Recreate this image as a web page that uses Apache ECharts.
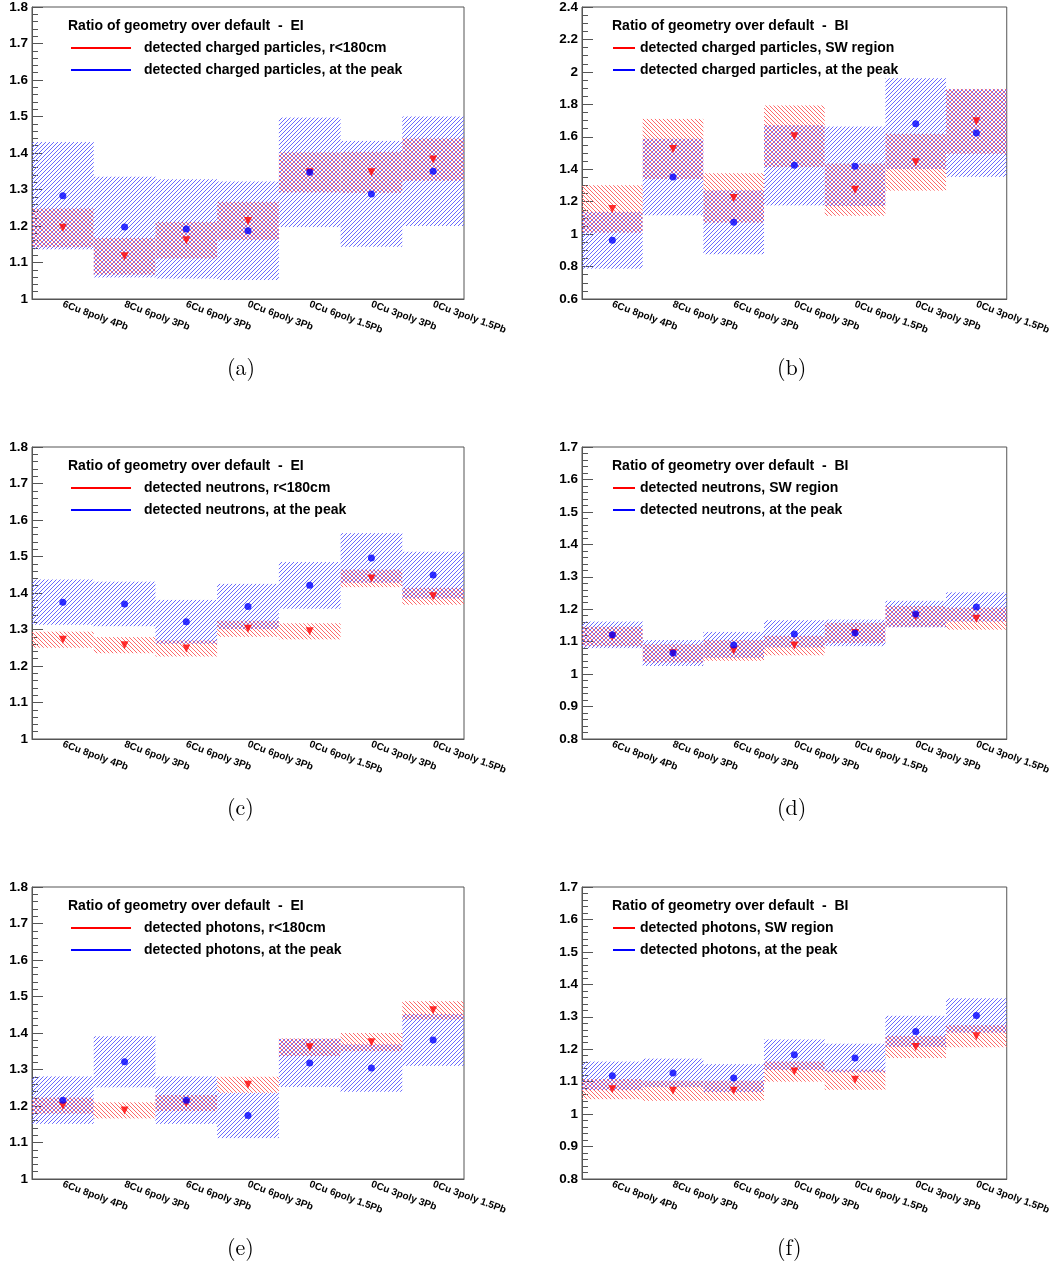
<!DOCTYPE html>
<html>
<head>
<meta charset="utf-8">
<title>Ratio of geometry over default</title>
<script src="https://cdn.jsdelivr.net/npm/echarts@6/dist/echarts.min.js"></script>
<style>
  html, body { margin: 0; padding: 0; background: #fff; }
  #chart { width: 1053px; height: 1266px; }
</style>
</head>
<body>
<div id="chart"></div>
<script>
// Geometry configurations along the x axis
const categories = ['6Cu 8poly 4Pb', '8Cu 6poly 3Pb', '6Cu 6poly 3Pb', '0Cu 6poly 3Pb',
  '0Cu 6poly 1.5Pb', '0Cu 3poly 3Pb', '0Cu 3poly 1.5Pb'];

// (a) charged particles, EI
const chargedEI_r180 = [1.195, 1.117, 1.161, 1.214, 1.347, 1.347, 1.382];
const chargedEI_r180Err = [0.053, 0.050, 0.050, 0.052, 0.055, 0.056, 0.058];
const chargedEI_peak = [1.283, 1.197, 1.192, 1.187, 1.347, 1.288, 1.350];
const chargedEI_peakErr = [0.147, 0.138, 0.136, 0.135, 0.150, 0.145, 0.150];

// (b) charged particles, BI
const chargedBI_sw = [1.155, 1.525, 1.223, 1.603, 1.274, 1.443, 1.695];
const chargedBI_swErr = [0.146, 0.185, 0.152, 0.190, 0.161, 0.175, 0.200];
const chargedBI_peak = [0.962, 1.352, 1.073, 1.424, 1.418, 1.681, 1.623];
const chargedBI_peakErr = [0.175, 0.236, 0.197, 0.247, 0.245, 0.280, 0.270];

// (c) neutrons, EI
const neutronsEI_r180 = [1.272, 1.257, 1.248, 1.302, 1.295, 1.440, 1.391];
const neutronsEI_r180Err = [0.022, 0.022, 0.022, 0.022, 0.022, 0.024, 0.023];
const neutronsEI_peak = [1.375, 1.370, 1.321, 1.363, 1.421, 1.496, 1.449];
const neutronsEI_peakErr = [0.062, 0.061, 0.060, 0.062, 0.064, 0.068, 0.064];

// (d) neutrons, BI
const neutronsBI_sw = [1.116, 1.064, 1.073, 1.088, 1.127, 1.178, 1.171];
const neutronsBI_swErr = [0.030, 0.028, 0.032, 0.030, 0.031, 0.032, 0.034];
const neutronsBI_peak = [1.121, 1.065, 1.090, 1.124, 1.127, 1.185, 1.207];
const neutronsBI_peakErr = [0.041, 0.040, 0.040, 0.042, 0.041, 0.041, 0.045];

// (e) photons, EI
const photonsEI_r180 = [1.201, 1.188, 1.208, 1.258, 1.361, 1.375, 1.462];
const photonsEI_r180Err = [0.022, 0.022, 0.022, 0.022, 0.024, 0.025, 0.025];
const photonsEI_peak = [1.216, 1.321, 1.216, 1.174, 1.318, 1.304, 1.381];
const photonsEI_peakErr = [0.065, 0.070, 0.065, 0.062, 0.066, 0.065, 0.071];

// (f) photons, BI
const photonsBI_sw = [1.077, 1.072, 1.072, 1.131, 1.106, 1.207, 1.240];
const photonsBI_swErr = [0.031, 0.031, 0.031, 0.031, 0.031, 0.034, 0.034];
const photonsBI_peak = [1.118, 1.127, 1.111, 1.183, 1.173, 1.255, 1.304];
const photonsBI_peakErr = [0.044, 0.044, 0.043, 0.047, 0.044, 0.048, 0.053];

const SANS = '"Liberation Sans", Arial, Helvetica, sans-serif';
const SERIF = '"Latin Modern Roman", "DejaVu Serif", "Liberation Serif", serif';
const HATCH_STEP = 4;
const BLUE_HATCH = 'rgb(105,105,255)';
const RED_HATCH = 'rgb(255,105,105)';

// Diagonal hatch lines clipped to a rectangle, as one path string.
// rising = true draws "/" lines, false draws "\" lines.
function hatchPath(x0, y0, x1, y1, rising) {
  let d = '';
  if (rising) {
    // lines x + y = c
    const cStart = Math.ceil((x0 + y0) / HATCH_STEP) * HATCH_STEP;
    for (let c = cStart; c <= x1 + y1; c += HATCH_STEP) {
      const xa = Math.max(x0, c - y1), xb = Math.min(x1, c - y0);
      if (xb > xa) d += 'M' + xa.toFixed(2) + ' ' + (c - xa).toFixed(2) + 'L' + xb.toFixed(2) + ' ' + (c - xb).toFixed(2);
    }
  } else {
    // lines x - y = c
    const cStart = Math.ceil((x0 - y1) / HATCH_STEP) * HATCH_STEP;
    for (let c = cStart; c <= x1 - y0; c += HATCH_STEP) {
      const xa = Math.max(x0, y0 + c), xb = Math.min(x1, y1 + c);
      if (xb > xa) d += 'M' + xa.toFixed(2) + ' ' + (xa - c).toFixed(2) + 'L' + xb.toFixed(2) + ' ' + (xb - c).toFixed(2);
    }
  }
  return d || 'M0 0';
}

const panels = [
  { label: '(a)', det: 'EI', left: 32, top: 7, yMin: 1, yMax: 1.8, step: 0.1, minor: 5,
    red: chargedEI_r180, redErr: chargedEI_r180Err, blue: chargedEI_peak, blueErr: chargedEI_peakErr,
    redName: 'detected charged particles, r<180cm', blueName: 'detected charged particles, at the peak' },
  { label: '(b)', det: 'BI', left: 582, top: 7, yMin: 0.6, yMax: 2.4, step: 0.2, minor: 4,
    red: chargedBI_sw, redErr: chargedBI_swErr, blue: chargedBI_peak, blueErr: chargedBI_peakErr,
    redName: 'detected charged particles, SW region', blueName: 'detected charged particles, at the peak ' },
  { label: '(c)', det: 'EI', left: 32, top: 447, yMin: 1, yMax: 1.8, step: 0.1, minor: 5,
    red: neutronsEI_r180, redErr: neutronsEI_r180Err, blue: neutronsEI_peak, blueErr: neutronsEI_peakErr,
    redName: 'detected neutrons, r<180cm', blueName: 'detected neutrons, at the peak' },
  { label: '(d)', det: 'BI', left: 582, top: 447, yMin: 0.8, yMax: 1.7, step: 0.1, minor: 5,
    red: neutronsBI_sw, redErr: neutronsBI_swErr, blue: neutronsBI_peak, blueErr: neutronsBI_peakErr,
    redName: 'detected neutrons, SW region', blueName: 'detected neutrons, at the peak ' },
  { label: '(e)', det: 'EI', left: 32, top: 887, yMin: 1, yMax: 1.8, step: 0.1, minor: 5,
    red: photonsEI_r180, redErr: photonsEI_r180Err, blue: photonsEI_peak, blueErr: photonsEI_peakErr,
    redName: 'detected photons, r<180cm', blueName: 'detected photons, at the peak' },
  { label: '(f)', det: 'BI', left: 582, top: 887, yMin: 0.8, yMax: 1.7, step: 0.1, minor: 5,
    red: photonsBI_sw, redErr: photonsBI_swErr, blue: photonsBI_peak, blueErr: photonsBI_peakErr,
    redName: 'detected photons, SW region', blueName: 'detected photons, at the peak ' }
];

const PW = 432, PH = 292;

// Uncertainty band across the full category width, filled with a hatch
function boxItem(color, rising) {
  return function (params, api) {
    const x = api.value(0);
    const hi = api.coord([x, api.value(2)]);
    const lo = api.coord([x, api.value(1)]);
    const w = api.size([1, 0])[0];
    const x0 = hi[0] - w / 2, x1 = hi[0] + w / 2;
    return {
      type: 'path',
      shape: { pathData: hatchPath(x0, hi[1], x1, lo[1], rising) },
      style: { fill: null, stroke: color, lineWidth: 1 }
    };
  };
}

function bands(vals, errs) {
  return vals.map((v, i) => [i, v - errs[i], v + errs[i]]);
}

const grid = [], xAxis = [], yAxis = [], series = [], legend = [], title = [];

panels.forEach((p, i) => {
  const isLeft = p.left < 500;
  grid.push({ left: p.left, top: p.top, width: PW, height: PH, show: true,
    borderColor: '#555', borderWidth: 1, backgroundColor: 'transparent' });
  xAxis.push({
    gridIndex: i, type: 'category', data: categories, boundaryGap: true,
    axisLine: { lineStyle: { color: '#555', width: 1 } },
    axisTick: { inside: true, length: 9, lineStyle: { color: '#555' } },
    axisLabel: { interval: 0, rotate: -20, fontSize: 10, fontWeight: 'bold', color: '#000',
      fontFamily: SANS, margin: 5 },
    splitLine: { show: false }
  });
  yAxis.push({
    gridIndex: i, type: 'value', min: p.yMin, max: p.yMax, interval: p.step,
    axisLine: { show: true, lineStyle: { color: '#555', width: 1 } },
    axisTick: { show: true, inside: true, length: 11, lineStyle: { color: '#555' } },
    minorTick: { show: true, splitNumber: p.minor, length: 6, lineStyle: { color: '#555' } },
    axisLabel: { fontSize: 13.5, fontWeight: 'bold', color: '#000', fontFamily: SANS, margin: 4 },
    splitLine: { show: false }
  });
  series.push({
    name: p.blueName, type: 'custom', xAxisIndex: i, yAxisIndex: i,
    renderItem: boxItem(BLUE_HATCH, true), data: bands(p.blue, p.blueErr),
    encode: { x: 0, y: [1, 2] }, z: 1, silent: true
  });
  series.push({
    name: p.redName, type: 'custom', xAxisIndex: i, yAxisIndex: i,
    renderItem: boxItem(RED_HATCH, false), data: bands(p.red, p.redErr),
    encode: { x: 0, y: [1, 2] }, z: 2, silent: true
  });
  series.push({
    name: p.redName, type: 'scatter', xAxisIndex: i, yAxisIndex: i,
    data: p.red, symbol: 'triangle', symbolRotate: 180, symbolSize: 8,
    itemStyle: { color: '#ff0000' }, z: 3
  });
  series.push({
    name: p.blueName, type: 'scatter', xAxisIndex: i, yAxisIndex: i,
    data: p.blue, symbol: 'circle', symbolSize: 7,
    itemStyle: { color: '#0000ff' }, z: 4
  });

  // Header line above the legend entries
  title.push({
    text: 'Ratio of geometry over default  -  ' + p.det,
    left: p.left + (isLeft ? 36 : 30), top: p.top + 12, padding: 0,
    textStyle: { fontFamily: SANS, fontSize: 14, fontWeight: 'bold', color: '#000' }
  });
  // Sub-figure caption
  title.push({
    text: p.label, left: p.left + 195, top: p.top + 350, padding: 0,
    textStyle: { fontFamily: SERIF, fontSize: 22, fontWeight: 'normal', color: '#000' }
  });

  const lineW = isLeft ? 60 : 22;
  const gapPad = isLeft ? 8 : 0;
  [[p.redName, '#ff0000', 34], [p.blueName, '#0000ff', 56]].forEach(([name, color, dy]) => {
    legend.push({
      left: p.left + (isLeft ? 39 : 31), top: p.top + dy, padding: 0,
      itemWidth: lineW, itemHeight: 2, icon: 'rect',
      selectedMode: false,
      data: [{ name: name, icon: 'rect', itemStyle: { color: color } }],
      textStyle: { fontFamily: SANS, fontSize: 14, fontWeight: 'bold', color: '#000',
        padding: [0, 0, 0, gapPad] }
    });
  });
});

const chart = echarts.init(document.getElementById('chart'), null, { renderer: 'canvas' });
chart.setOption({
  animation: false,
  backgroundColor: '#fff',
  title: title,
  legend: legend,
  grid: grid,
  xAxis: xAxis,
  yAxis: yAxis,
  series: series
});
</script>
</body>
</html>
